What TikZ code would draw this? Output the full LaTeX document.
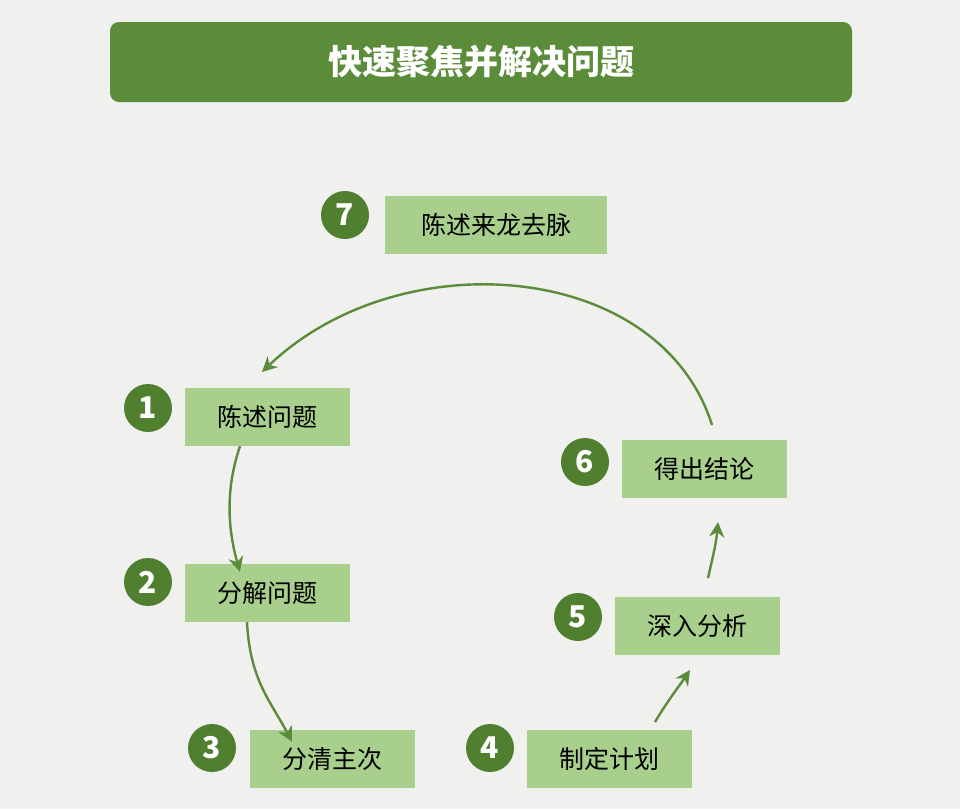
\documentclass[tikz,border=0pt]{standalone}
\usepackage{fontspec}
\setmainfont{Noto Sans CJK SC}
\usetikzlibrary{arrows.meta}
\definecolor{bg}{HTML}{F0F0EE}
\definecolor{dg}{HTML}{5B8C3A}
\definecolor{cg}{HTML}{4F7F2F}
\definecolor{lg}{HTML}{A8D08C}
\begin{document}
\begin{tikzpicture}[x=1pt,y=-1pt,
 num/.style={circle,fill=cg,minimum size=48pt,inner sep=0pt,text=white,font=\fontsize{30}{30}\selectfont\bfseries},
 box/.style={fill=lg,minimum height=58pt,inner sep=0pt,font=\fontsize{25}{25}\selectfont},
 arr/.style={draw=dg,line width=2.4pt,-{Stealth[length=15pt,width=15pt]}}]
\fill[bg] (0,0) rectangle (960,809);
\useasboundingbox (0,0) rectangle (960,809);
\node[fill=dg,rounded corners=9pt,minimum width=742pt,minimum height=80pt,text=white,font=\fontsize{34}{34}\selectfont\bfseries] (title) at (481,62) {快速聚焦并解决问题};
\node[num] (n7) at (345,215) {7};
\node[box,minimum width=222pt] (b7) at (496,225) {陈述来龙去脉};
\node[num] (n1) at (148,408) {1};
\node[box,minimum width=165pt] (b1) at (267,417) {陈述问题};
\node[num] (n2) at (148,582) {2};
\node[box,minimum width=165pt] (b2) at (267,593) {分解问题};
\node[num] (n3) at (212,748) {3};
\node[box,minimum width=165pt] (b3) at (332,759) {分清主次};
\node[num] (n4) at (490,748) {4};
\node[box,minimum width=165pt] (b4) at (609,759) {制定计划};
\node[num] (n5) at (578,617) {5};
\node[box,minimum width=165pt] (b5) at (697,626) {深入分析};
\node[num] (n6) at (585,462) {6};
\node[box,minimum width=165pt] (b6) at (704,469) {得出结论};
\coordinate (a0) at (712,425);
\coordinate (a1) at (262,372);
\coordinate (c0) at (655,722);
\coordinate (c1) at (690,670);
\coordinate (d0) at (708,578);
\coordinate (d1) at (718,522);
\draw[arr] (a0) .. controls (660,260) and (400,240) .. (a1);
\draw[arr] ([xshift=-27pt]b1.south) .. controls (225,490) and (228,530) .. ([xshift=-27pt,yshift=-8pt]b2.north);
\draw[arr] ([xshift=-20pt]b2.south) .. controls (250,680) and (270,700) .. ([xshift=-40pt,yshift=-12pt]b3.north);
\draw[arr] (c0) .. controls (668,700) and (680,685) .. (c1);
\draw[arr] (d0) .. controls (712,560) and (716,545) .. (d1);
\end{tikzpicture}
\end{document}
